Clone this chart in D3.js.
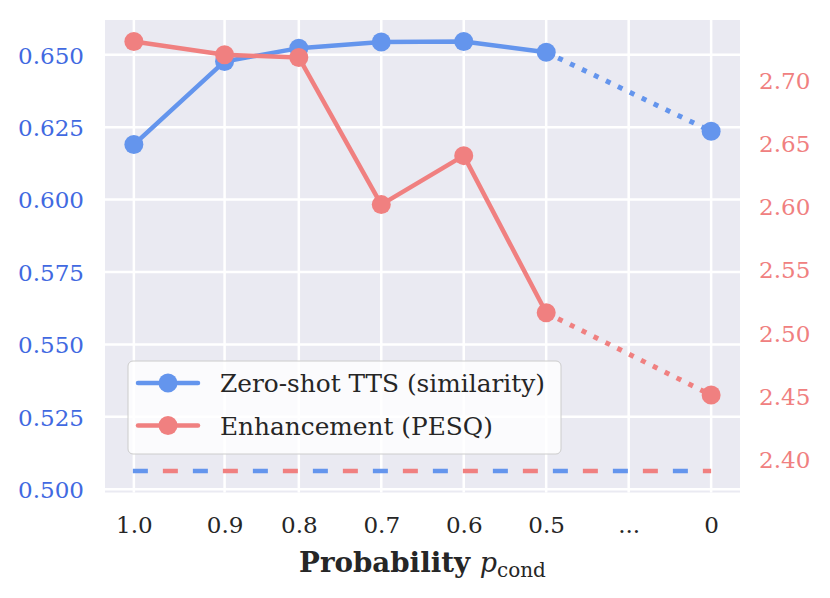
<!DOCTYPE html>
<html>
<head>
<meta charset="utf-8">
<script src="https://cdn.jsdelivr.net/npm/d3@7"></script>
<style>
  html, body { margin: 0; padding: 0; background: #ffffff; }
  svg { display: block; }
</style>
</head>
<body>
<svg id="chart" width="830" height="598"></svg>
<script>
// ---------------- data ----------------
const tickLabels = ["1.0", "0.9", "0.8", "0.7", "0.6", "0.5", "...", "0"];
const tickPositions = [0, 1.1, 2, 3, 4, 5, 6, 7];
const pointPositions = [0, 1.1, 2, 3, 4, 5, 7];
const similarity = [0.6190, 0.6477, 0.6523, 0.6544, 0.6546, 0.6509, 0.6236];
const pesq = [2.7302, 2.7197, 2.7176, 2.6013, 2.6400, 2.5158, 2.4508];
const similarityBaseline = 0.5063;
const pesqBaseline = 2.3908;
const leftTicks = [0.500, 0.525, 0.550, 0.575, 0.600, 0.625, 0.650];
const rightTicks = [2.40, 2.45, 2.50, 2.55, 2.60, 2.65, 2.70];
const seriesNames = ["Zero-shot TTS (similarity)", "Enhancement (PESQ)"];

// ---------------- layout ----------------
const plot = { left: 105, right: 740, top: 20, bottom: 492.5 };
const blue = "#6495ED", red = "#F08080";
const blueText = "#4169E1";
const serif = "DejaVu Serif";

const svg = d3.select("#chart");

// size a font so that a sample string gets a target width
function fitSize(sample, target, attrs) {
  const t = svg.append("text").attr("font-size", 100).text(sample);
  Object.entries(attrs).forEach(([k, v]) => t.attr(k, v));
  const w = t.node().getComputedTextLength();
  t.remove();
  return 100 * target / w;
}
const tickSize = Math.min(28, fitSize("0.650", 66, { "font-family": serif }));
const legendSize = Math.min(31, fitSize(seriesNames[0], 325, { "font-family": serif }));
const titleSize = fitSize("Probability", 171, { "font-family": serif, "font-weight": "bold" });

function padded(vals) {
  const lo = d3.min(vals), hi = d3.max(vals), r = hi - lo;
  return [lo - 0.05 * r, hi + 0.05 * r];
}

const x = d3.scaleLinear().domain([-0.35, 7.35]).range([plot.left, plot.right]);
const yL = d3.scaleLinear()
  .domain(padded(similarity.concat([similarityBaseline])))
  .range([plot.bottom, plot.top]);
const yR = d3.scaleLinear()
  .domain(padded(pesq.concat([pesqBaseline])))
  .range([plot.bottom, plot.top]);

// background
svg.append("rect")
  .attr("x", plot.left).attr("y", plot.top)
  .attr("width", plot.right - plot.left)
  .attr("height", plot.bottom - plot.top)
  .attr("fill", "#EAEAF2");

// grid
const grid = svg.append("g").attr("stroke", "#ffffff").attr("stroke-width", 2.5);
grid.selectAll("line.v").data(tickPositions).join("line")
  .attr("class", "v")
  .attr("x1", d => x(d)).attr("x2", d => x(d))
  .attr("y1", plot.top).attr("y2", plot.bottom);
grid.selectAll("line.h").data(leftTicks).join("line")
  .attr("class", "h")
  .attr("x1", plot.left).attr("x2", plot.right)
  .attr("y1", d => yL(d)).attr("y2", d => yL(d));

// axes (labels only)
const xAxis = d3.axisBottom(x)
  .tickValues(tickPositions)
  .tickFormat((d, i) => tickLabels[i])
  .tickSize(0).tickPadding(0);
const gx = svg.append("g").attr("transform", `translate(0,${plot.bottom})`).call(xAxis);
gx.select(".domain").remove();
gx.selectAll("text")
  .attr("font-family", serif).attr("font-size", tickSize)
  .attr("fill", "#262626").attr("dy", null).attr("y", 40.5);

const yAxisL = d3.axisLeft(yL).tickValues(leftTicks)
  .tickFormat(d3.format(".3f")).tickSize(0).tickPadding(0);
const gl = svg.append("g").attr("transform", `translate(84,0)`).call(yAxisL);
gl.select(".domain").remove();
gl.selectAll("text")
  .attr("font-family", serif).attr("font-size", tickSize)
  .attr("fill", blueText).attr("x", 0).attr("dy", "0.36em");

const yAxisR = d3.axisRight(yR).tickValues(rightTicks)
  .tickFormat(d3.format(".2f")).tickSize(0).tickPadding(0);
const gr = svg.append("g").attr("transform", `translate(759,0)`).call(yAxisR);
gr.select(".domain").remove();
gr.selectAll("text")
  .attr("font-family", serif).attr("font-size", tickSize)
  .attr("fill", red).attr("x", 0).attr("dy", "0.36em");

// series
function drawSeries(values, yScale, color, baseline, dashOffset) {
  const pts = values.map((v, i) => [x(pointPositions[i]), yScale(v)]);
  const line = d3.line();
  const g = svg.append("g");
  g.append("path")
    .attr("d", line(pts.slice(0, 6)))
    .attr("fill", "none").attr("stroke", color)
    .attr("stroke-width", 4.5).attr("stroke-linejoin", "round").attr("stroke-linecap", "round");
  g.append("path")
    .attr("d", line(pts.slice(5)))
    .attr("fill", "none").attr("stroke", color)
    .attr("stroke-width", 5).attr("stroke-dasharray", "5,8.25");
  g.selectAll("circle").data(pts).join("circle")
    .attr("cx", d => d[0]).attr("cy", d => d[1]).attr("r", 9.5)
    .attr("fill", color);
  g.append("line")
    .attr("x1", x(tickPositions[0]) - 1).attr("x2", x(tickPositions[tickPositions.length - 1]))
    .attr("y1", yScale(baseline)).attr("y2", yScale(baseline))
    .attr("stroke", color).attr("stroke-width", 4.5)
    .attr("stroke-dasharray", "15,45").attr("stroke-dashoffset", dashOffset);
}
drawSeries(similarity, yL, blue, similarityBaseline, 0);
drawSeries(pesq, yR, red, pesqBaseline, 30);

// legend
const lg = svg.append("g");
lg.append("rect")
  .attr("x", 128).attr("y", 361).attr("width", 433).attr("height", 93)
  .attr("rx", 5).attr("fill", "#ffffff").attr("fill-opacity", 0.8)
  .attr("stroke", "#cccccc").attr("stroke-width", 1);
[blue, red].forEach((c, i) => {
  const yy = 383 + i * 42.5;
  lg.append("line").attr("x1", 138).attr("x2", 198).attr("y1", yy).attr("y2", yy)
    .attr("stroke", c).attr("stroke-width", 4.5).attr("stroke-linecap", "round");
  lg.append("circle").attr("cx", 168).attr("cy", yy).attr("r", 9.5).attr("fill", c);
  lg.append("text").attr("x", 220).attr("y", yy + 9)
    .attr("font-family", serif).attr("font-size", legendSize).attr("fill", "#262626")
    .text(seriesNames[i]);
});

// x-axis title
const title = svg.append("text")
  .attr("x", (plot.left + plot.right) / 2).attr("y", 572)
  .attr("text-anchor", "middle").attr("fill", "#262626");
title.append("tspan").attr("font-family", serif)
  .attr("font-weight", "bold").attr("font-size", titleSize).text("Probability ");
title.append("tspan").attr("font-family", serif).attr("font-style", "italic")
  .attr("font-size", 27).text("p");
title.append("tspan").attr("font-family", serif).attr("font-size", 20)
  .attr("dy", 5).text("cond");
</script>
</body>
</html>
